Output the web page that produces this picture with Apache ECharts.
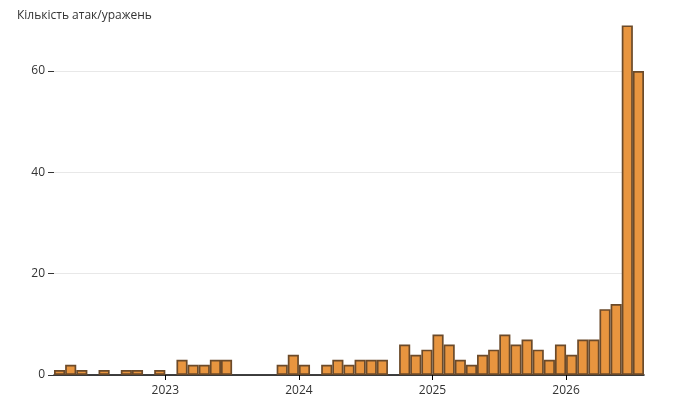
<!DOCTYPE html>
<html lang="uk">

<head>
  <meta charset="UTF-8">
  <meta name="viewport" content="width=device-width, initial-scale=1.0">
  <script src="https://cdn.jsdelivr.net/npm/echarts@6.0.0/dist/echarts.min.js"></script>
  <style>
    body,
    html {
      margin: 0;
      padding: 0;
      width: 100%;
      height: 100%;
      background: #fff;
      overflow: hidden;
    }

    #main {
      width: 681px;
      height: 409px;
    }
  </style>
</head>

<body>
  <div id="main"></div>
  <script type="text/javascript">
    // monthly counts, March 2022 .. July 2026
    var months = [
      '2022-03', '2022-04', '2022-05', '2022-06', '2022-07', '2022-08', '2022-09', '2022-10', '2022-11', '2022-12',
      '2023-01', '2023-02', '2023-03', '2023-04', '2023-05', '2023-06', '2023-07', '2023-08', '2023-09', '2023-10', '2023-11', '2023-12',
      '2024-01', '2024-02', '2024-03', '2024-04', '2024-05', '2024-06', '2024-07', '2024-08', '2024-09', '2024-10', '2024-11', '2024-12',
      '2025-01', '2025-02', '2025-03', '2025-04', '2025-05', '2025-06', '2025-07', '2025-08', '2025-09', '2025-10', '2025-11', '2025-12',
      '2026-01', '2026-02', '2026-03', '2026-04', '2026-05', '2026-06', '2026-07'
    ];
    var counts = [
      1, 2, 1, 0, 1, 0, 1, 1, 0, 1,
      0, 3, 2, 2, 3, 3, 0, 0, 0, 0, 2, 4,
      2, 0, 2, 3, 2, 3, 3, 3, 0, 6, 4, 5,
      8, 6, 3, 2, 4, 5, 8, 6, 7, 5, 3, 6,
      4, 7, 7, 13, 14, 69, 60
    ];
    var yearTicks = ['2023', '2024', '2025', '2026'];
    var yTitle = 'Кількість атак/уражень';

    // x in months counted from January 2022
    function monthIndex(s) {
      var p = s.split('-');
      return (+p[0] - 2022) * 12 + (+p[1] - 1);
    }

    var barData = [];
    months.forEach(function (m, i) {
      if (counts[i] > 0) barData.push([monthIndex(m) + 0.5, counts[i]]);
    });
    var yearPos = yearTicks.map(function (y) { return monthIndex(y + '-01'); });
    var xMin = monthIndex(months[0]);
    var xMax = monthIndex(months[months.length - 1]) + 1;

    var myChart = echarts.init(document.getElementById('main'));

    var option = {
      backgroundColor: '#fff',
      animation: false,
      textStyle: { fontFamily: '"Open Sans", sans-serif' },
      title: {
        text: yTitle,
        left: 12,
        top: 5,
        textStyle: { fontSize: 12, fontWeight: 'normal', color: '#333' }
      },
      grid: { left: 54, right: 37, top: 71, bottom: 34 },
      xAxis: {
        type: 'value',
        min: xMin,
        max: xMax,
        splitLine: { show: false },
        axisLine: { lineStyle: { color: '#000', width: 1.5 } },
        axisTick: { customValues: yearPos, length: 5, lineStyle: { color: '#000' } },
        axisLabel: {
          customValues: yearPos,
          margin: 10,
          fontSize: 12,
          color: '#333',
          formatter: function (v) {
            return yearTicks[yearPos.indexOf(v)];
          }
        }
      },
      yAxis: {
        type: 'value',
        min: 0,
        max: 60,
        interval: 20,
        axisLine: { show: false },
        axisTick: { show: true, length: 6, lineStyle: { color: '#333' } },
        axisLabel: { margin: 9, fontSize: 12, color: '#333' },
        splitLine: { lineStyle: { color: '#e8e8e8', width: 1 } }
      },
      series: [{
        type: 'bar',
        data: barData,
        barWidth: '100%',
        clip: false,
        itemStyle: {
          color: '#e8953f',
          borderColor: '#6b4a2a',
          borderWidth: 1.7
        }
      }]
    };

    myChart.setOption(option);
  </script>
</body>

</html>
